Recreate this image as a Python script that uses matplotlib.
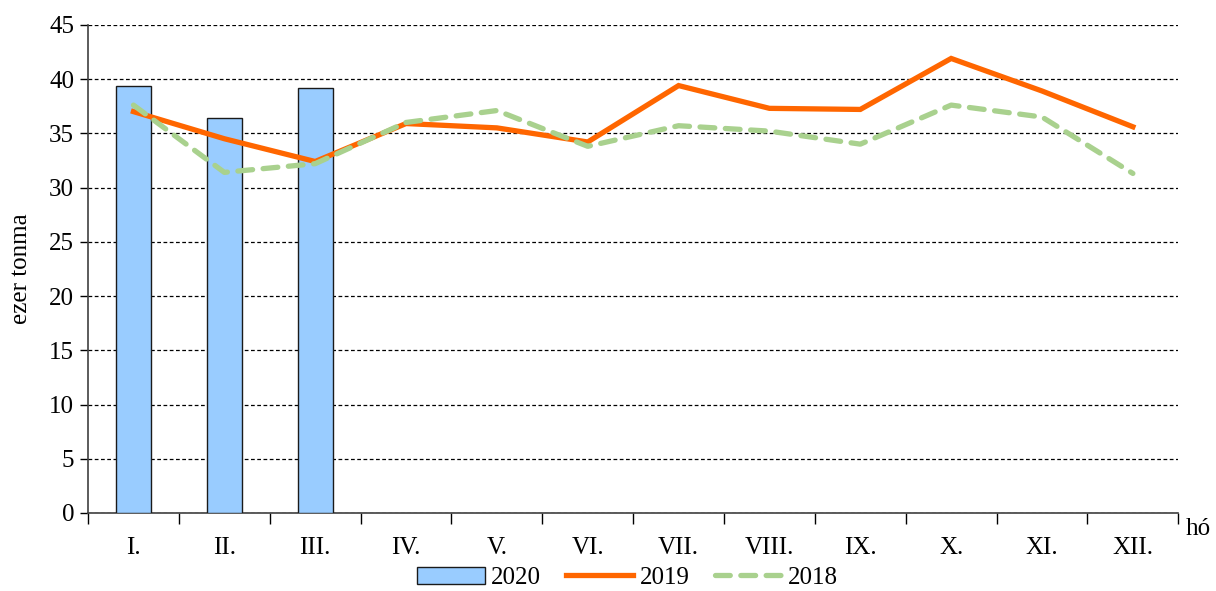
import matplotlib
matplotlib.use("Agg")
import matplotlib.pyplot as plt
import numpy as np

plt.rcParams["font.family"] = ["Liberation Serif", "DejaVu Serif"]

# havi adatok, ezer tonna
months = ["I.", "II.", "III.", "IV.", "V.", "VI.", "VII.", "VIII.", "IX.", "X.", "XI.", "XII."]
y2020 = [39.4, 36.4, 39.2]
y2019 = [37.0, 34.5, 32.4, 35.9, 35.5, 34.2, 39.4, 37.3, 37.2, 41.9, 38.9, 35.6]
y2018 = [37.6, 31.4, 32.2, 36.0, 37.1, 33.8, 35.7, 35.2, 34.0, 37.6, 36.5, 31.3]

fig = plt.figure(figsize=(12.16, 5.91), dpi=100)
ax = fig.add_axes([0.0724, 0.132, 0.8966, 0.826])

x = np.arange(len(months))
b20 = ax.bar(x[:len(y2020)], y2020, width=0.385, color="#99CCFF", edgecolor="#1a1a1a",
             linewidth=1.0, label="2020", zorder=3)
l19, = ax.plot(x, y2019, color="#FF6600", linewidth=3.8, solid_joinstyle="miter",
               label="2019", zorder=4)
l18, = ax.plot(x, y2018, color="#A9D18E", linewidth=3.8, linestyle=(0, (2.8, 2.0)),
               dash_capstyle="round", label="2018", zorder=5)

ax.set_xlim(-0.5, 11.5)
ax.set_ylim(0, 45)
ax.set_yticks(np.arange(0, 46, 5))
ax.yaxis.grid(True, linestyle=(0, (3, 2)), color="black", linewidth=0.9)
ax.set_axisbelow(True)

ax.set_xticks(x)
ax.set_xticklabels(months)
ax.set_xticks(np.arange(-0.5, 12, 1), minor=True)
ax.tick_params(axis="x", which="major", length=0, pad=17, labelsize=18)
ax.tick_params(axis="x", which="minor", length=8, width=1, direction="out")
ax.tick_params(axis="y", length=6, width=1, labelsize=18, pad=4)

for s in ["top", "right"]:
    ax.spines[s].set_visible(False)
ax.spines["left"].set_color("#404040")
ax.spines["bottom"].set_color("#404040")
ax.spines["left"].set_linewidth(1.2)
ax.spines["bottom"].set_linewidth(1.2)

ax.set_ylabel("ezer tonma", fontsize=18, labelpad=12)
ax.text(1.007, -0.01, "hó", transform=ax.transAxes, fontsize=18, va="top", ha="left")

ax.legend([b20, l19, l18], ["2020", "2019", "2018"], loc="center",
          bbox_to_anchor=(0.495, -0.133), ncol=3, frameon=False,
          fontsize=18, handlelength=2.7, handletextpad=0.25, columnspacing=1.0,
          borderaxespad=0, borderpad=0)

fig.savefig("out.png", dpi=100)
